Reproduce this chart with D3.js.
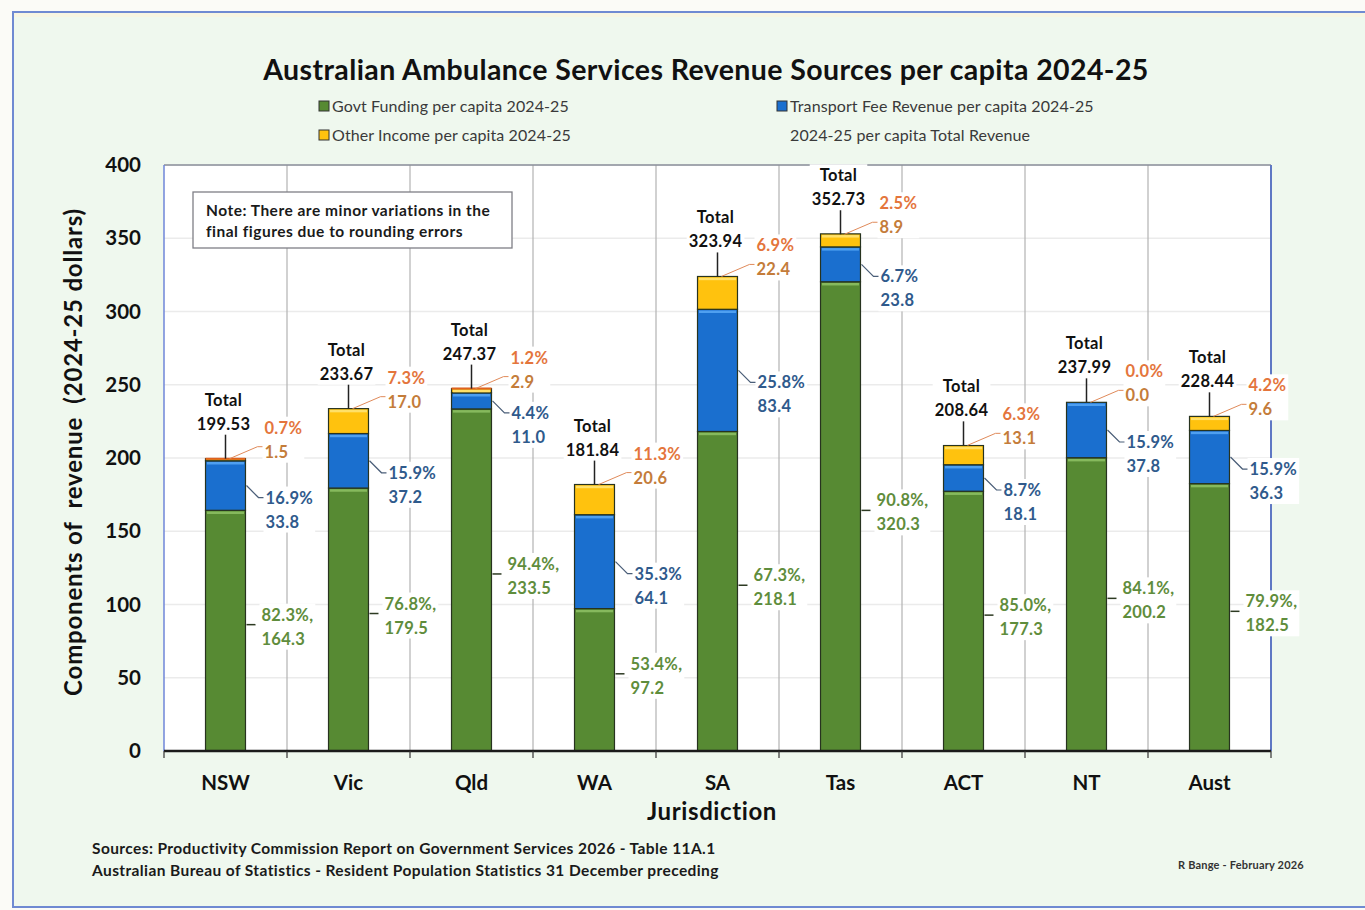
<!DOCTYPE html>
<html>
<head>
<meta charset="utf-8">
<script src="https://cdn.jsdelivr.net/npm/d3@7"></script>
<style>
  html, body { margin: 0; padding: 0; background: #fbfbf7; }
  svg { display: block; }
  text { font-family: Lato, "Open Sans", sans-serif; }
</style>
</head>
<body>
<svg id="chart" width="1365" height="910"></svg>
<script>
// Revenue per capita by jurisdiction, 2024-25 (dollars)
const jurisdictions = ["NSW", "Vic", "Qld", "WA", "SA", "Tas", "ACT", "NT", "Aust"];
const govtFunding   = [164.3, 179.5, 233.5, 97.2, 218.1, 320.3, 177.3, 200.2, 182.5];
const transportFees = [33.8, 37.2, 11.0, 64.1, 83.4, 23.8, 18.1, 37.8, 36.3];
const otherIncome   = [1.5, 17.0, 2.9, 20.6, 22.4, 8.9, 13.1, 0.0, 9.6];
const totalRevenue  = [199.53, 233.67, 247.37, 181.84, 323.94, 352.73, 208.64, 237.99, 228.44];
const govtShare     = ["82.3%", "76.8%", "94.4%", "53.4%", "67.3%", "90.8%", "85.0%", "84.1%", "79.9%"];
const transportShare= ["16.9%", "15.9%", "4.4%", "35.3%", "25.8%", "6.7%", "8.7%", "15.9%", "15.9%"];
const otherShare    = ["0.7%", "7.3%", "1.2%", "11.3%", "6.9%", "2.5%", "6.3%", "0.0%", "4.2%"];
const yTicks        = [0, 50, 100, 150, 200, 250, 300, 350, 400];

const seriesKeys   = ["govt", "transport", "other"];
const seriesNames  = ["Govt Funding per capita 2024-25", "Transport Fee Revenue per capita 2024-25",
                      "Other Income per capita 2024-25", "2024-25 per capita Total Revenue"];
const fills   = { govt: "#578a33", transport: "#1a6fcf", other: "#ffc20e" };
const shines  = { govt: "#86b95d", transport: "#4e9ff0", other: "#ffe068" };

const rows = jurisdictions.map((j, i) => ({
  name: j, govt: govtFunding[i], transport: transportFees[i], other: otherIncome[i],
  total: totalRevenue[i], gPct: govtShare[i], tPct: transportShare[i], oPct: otherShare[i]
}));

const svg = d3.select("#chart");
const plot = { left: 164, right: 1271, top: 165, bottom: 751 };

// Outer frame
svg.append("rect").attr("x", 13).attr("y", 12).attr("width", 1370).attr("height", 895)
  .attr("fill", "#eff8ee").attr("stroke", "#6f8ad2").attr("stroke-width", 2);
svg.append("rect").attr("x", 14).attr("y", 13).attr("width", 1360).attr("height", 4).attr("fill", "#f7f5e2");

const x = d3.scaleBand().domain(jurisdictions).range([plot.left, plot.right])
  .paddingInner(0.675).paddingOuter(0.3375);
const y = d3.scaleLinear().domain([0, 400]).range([plot.bottom, plot.top]);
const step = x.step();
const bw = x.bandwidth();

// Plot area
svg.append("rect").attr("x", plot.left).attr("y", plot.top)
  .attr("width", plot.right - plot.left).attr("height", plot.bottom - plot.top).attr("fill", "#ffffff");

// Horizontal gridlines
svg.append("g").selectAll("line").data(yTicks.slice(1)).join("line")
  .attr("x1", plot.left).attr("x2", plot.right)
  .attr("y1", d => y(d)).attr("y2", d => y(d))
  .attr("stroke", "#ebebeb").attr("stroke-width", 1.5);

// Vertical gridlines between jurisdictions
const bounds = d3.range(1, jurisdictions.length).map(i => x(jurisdictions[i]) - (step - bw) / 2);
svg.append("g").selectAll("line").data(bounds).join("line")
  .attr("x1", d => d).attr("x2", d => d).attr("y1", plot.top).attr("y2", plot.bottom)
  .attr("stroke", "#b3b3b3").attr("stroke-width", 1.2);

// Plot borders
svg.append("line").attr("x1", plot.left).attr("x2", plot.right).attr("y1", plot.top).attr("y2", plot.top)
  .attr("stroke", "#8a8f9a").attr("stroke-width", 1.5);
svg.append("line").attr("x1", plot.left).attr("x2", plot.left).attr("y1", plot.top).attr("y2", plot.bottom)
  .attr("stroke", "#6f86d8").attr("stroke-width", 1.5);
svg.append("line").attr("x1", plot.right).attr("x2", plot.right).attr("y1", plot.top).attr("y2", plot.bottom)
  .attr("stroke", "#5f78c4").attr("stroke-width", 2);

// Stacked bars
const stack = d3.stack().keys(seriesKeys)(rows);
const barG = svg.append("g");
stack.forEach(layer => {
  const key = layer.key;
  const g = barG.append("g");
  g.selectAll("rect.seg").data(layer).join("rect").attr("class", "seg")
    .attr("x", d => x(d.data.name)).attr("width", bw)
    .attr("y", d => y(d[1])).attr("height", d => Math.max(0, y(d[0]) - y(d[1])))
    .attr("fill", fills[key]).attr("stroke", "#27331f").attr("stroke-width", 1.2);
  g.selectAll("rect.shine").data(layer.filter(d => y(d[0]) - y(d[1]) > 4)).join("rect").attr("class", "shine")
    .attr("x", d => x(d.data.name) + 1.5).attr("width", bw - 3)
    .attr("y", d => y(d[1]) + 1.2).attr("height", 2.5).attr("fill", shines[key]);
});
// thin orange cap for very small segments
barG.selectAll("line.cap").data(rows.filter(r => r.other > 0 && r.other < 3)).join("line")
  .attr("x1", d => x(d.name)).attr("x2", d => x(d.name) + bw)
  .attr("y1", d => y(d.total)).attr("y2", d => y(d.total))
  .attr("stroke", "#e0621e").attr("stroke-width", 2);

// X axis
const xAxisG = svg.append("g");
xAxisG.append("line").attr("x1", plot.left).attr("x2", plot.right).attr("y1", plot.bottom).attr("y2", plot.bottom)
  .attr("stroke", "#1b1b1b").attr("stroke-width", 2.5);
xAxisG.selectAll("line.tick").data([plot.left, ...bounds, plot.right]).join("line").attr("class", "tick")
  .attr("x1", d => d).attr("x2", d => d).attr("y1", plot.bottom).attr("y2", plot.bottom + 7)
  .attr("stroke", "#333").attr("stroke-width", 1.2);
xAxisG.selectAll("text").data(jurisdictions).join("text")
  .attr("x", d => x(d) + bw / 2).attr("y", 790).attr("text-anchor", "middle")
  .attr("font-size", 20.5).attr("font-weight", 700).attr("fill", "#111").text(d => d);

// Y axis labels
svg.append("g").selectAll("text").data(yTicks).join("text")
  .attr("x", 141).attr("y", d => y(d) + 7).attr("text-anchor", "end")
  .attr("font-size", 20.5).attr("font-weight", 700).attr("fill", "#111").text(d => d);

// Axis titles
svg.append("text").attr("transform", "translate(82,452) rotate(-90)").attr("text-anchor", "middle")
  .attr("font-size", 24).attr("font-weight", 700).attr("fill", "#111").attr("letter-spacing", 0.8)
  .attr("xml:space", "preserve").text("Components of  revenue  (2024-25 dollars)");
svg.append("text").attr("x", 712).attr("y", 820).attr("text-anchor", "middle")
  .attr("font-size", 24).attr("font-weight", 700).attr("fill", "#111").attr("letter-spacing", 0.6)
  .text("Jurisdiction");

// Title
svg.append("text").attr("x", 706).attr("y", 80).attr("text-anchor", "middle")
  .attr("font-size", 28.5).attr("font-weight", 700).attr("fill", "#111").attr("letter-spacing", 0.4)
  .text("Australian Ambulance Services Revenue Sources per capita 2024-25");

// Legend
const legendItems = [
  { label: seriesNames[0], color: fills.govt, x: 319, y: 107 },
  { label: seriesNames[1], color: fills.transport, x: 777, y: 107 },
  { label: seriesNames[2], color: fills.other, x: 319, y: 136 },
  { label: seriesNames[3], color: null, x: 777, y: 136 }
];
const lg = svg.append("g").selectAll("g").data(legendItems).join("g");
lg.filter(d => d.color).append("rect")
  .attr("x", d => d.x).attr("y", d => d.y - 6).attr("width", 10).attr("height", 10)
  .attr("fill", d => d.color).attr("stroke", "#333").attr("stroke-width", 1);
lg.append("text").attr("x", d => d.x + 13).attr("y", d => d.y + 5)
  .attr("font-size", 16).attr("letter-spacing", 0.1).attr("fill", "#3a3a3a").text(d => d.label);

// Note box
svg.append("rect").attr("x", 193).attr("y", 192).attr("width", 319).attr("height", 56)
  .attr("fill", "#ffffff").attr("stroke", "#7f7f86").attr("stroke-width", 1.3);
svg.append("text").attr("x", 206).attr("y", 216).attr("font-size", 15.5).attr("letter-spacing", 0.5)
  .attr("font-weight", 700).attr("fill", "#1a1a1a")
  .text("Note: There are minor variations in the");
svg.append("text").attr("x", 206).attr("y", 237).attr("font-size", 15.5).attr("letter-spacing", 0.5)
  .attr("font-weight", 700).attr("fill", "#1a1a1a")
  .text("final figures due to rounding errors");

// Data labels
const labelLayer = svg.append("g");
const lineLayer = labelLayer.append("g");
const textLayer = labelLayer.append("g");

function addLabel(lines, xPos, yPos, anchor, colors) {
  const g = textLayer.append("g");
  const bg = g.append("rect").attr("fill", "#ffffff");
  const t = g.append("text").attr("font-size", 16.5).attr("font-weight", 700)
    .attr("letter-spacing", 0.3).attr("text-anchor", anchor);
  lines.forEach((s, i) => {
    t.append("tspan").attr("x", xPos).attr("y", yPos + i * 24 + 6).attr("fill", colors[i]).text(s);
  });
  const b = t.node().getBBox();
  bg.attr("x", b.x - 2).attr("y", b.y - 1).attr("width", b.width + 4).attr("height", b.height + 2);
}

rows.forEach(r => {
  const x0 = x(r.name), cx = x0 + bw / 2, xr = x0 + bw;
  const top = y(r.total);

  // Totals
  lineLayer.append("line").attr("x1", cx).attr("x2", cx).attr("y1", top).attr("y2", top - 26)
    .attr("stroke", "#222").attr("stroke-width", 1.5);
  addLabel(["Total", d3.format(".2f")(r.total)], cx - 2, top - 59, "middle", ["#111", "#111"]);

  // Other income
  const oy = top - 7;
  lineLayer.append("polyline")
    .attr("points", [[cx + 4, top], [xr + 12, oy - 5], [xr + 19, oy - 5]].map(p => p.join(",")).join(" "))
    .attr("fill", "none").attr("stroke", "#e08a5a").attr("stroke-width", 1);
  addLabel([r.oPct, d3.format(".1f")(r.other)], xr + 19, top - 31, "start", ["#e4753c", "#c47c3a"]);

  // Transport fees
  const tm = y(r.govt + r.transport / 2);
  lineLayer.append("polyline")
    .attr("points", [[xr + 1, tm], [xr + 13, tm + 12], [xr + 19, tm + 12]].map(p => p.join(",")).join(" "))
    .attr("fill", "none").attr("stroke", "#4a5e78").attr("stroke-width", 1.2);
  addLabel([r.tPct, d3.format(".1f")(r.transport)], xr + 20, tm + 12, "start", ["#2f5a8c", "#2f5a8c"]);

  // Govt funding
  const gm = y(r.govt / 2);
  lineLayer.append("line").attr("x1", xr + 1).attr("x2", xr + 10).attr("y1", gm - 6).attr("y2", gm - 6)
    .attr("stroke", "#2d3a22").attr("stroke-width", 1.5);
  addLabel([r.gPct + ",", d3.format(".1f")(r.govt)], xr + 16, gm - 16, "start", ["#5f8d3c", "#5f8d3c"]);
});

// Sources and credit
svg.append("text").attr("x", 92).attr("y", 854).attr("font-size", 15.5).attr("letter-spacing", 0.4)
  .attr("font-weight", 700).attr("fill", "#1a1a1a")
  .text("Sources: Productivity Commission Report on Government Services 2026 - Table 11A.1");
svg.append("text").attr("x", 92).attr("y", 876).attr("font-size", 15.5).attr("letter-spacing", 0.4)
  .attr("font-weight", 700).attr("fill", "#1a1a1a")
  .text("Australian Bureau of Statistics - Resident Population Statistics 31 December preceding");
svg.append("text").attr("x", 1178).attr("y", 869).attr("font-size", 11).attr("letter-spacing", 0.2)
  .attr("font-weight", 700).attr("fill", "#333")
  .text("R Bange - February 2026");
</script>
</body>
</html>
